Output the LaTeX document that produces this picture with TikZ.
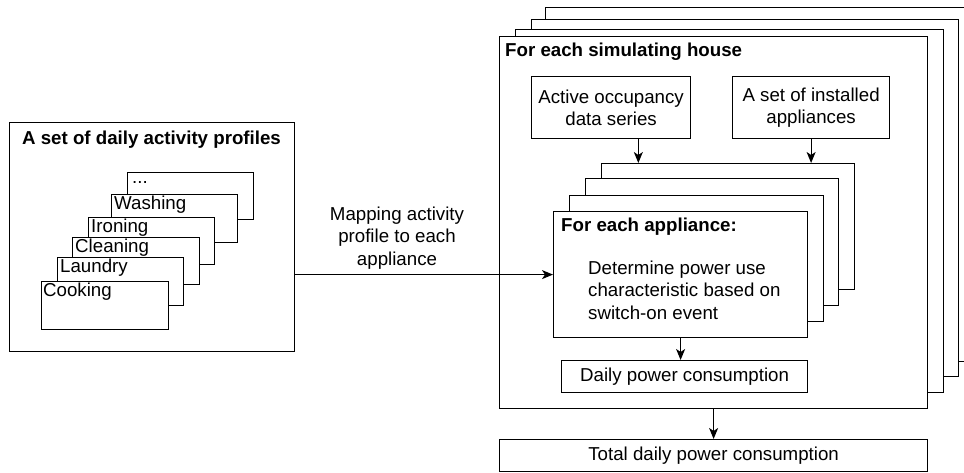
\documentclass[tikz,border=0pt]{standalone}
\usepackage{fontspec}
\setmainfont{Liberation Sans}
\usetikzlibrary{arrows.meta,calc}
\tikzset{
  box/.style={draw, line width=1.2pt, fill=white, inner sep=0pt, anchor=north west},
  arr/.style={line width=1.2pt, -{Stealth[length=11pt,width=9pt,inset=3pt]}},
  txt/.style={inner sep=0pt, font=\fontsize{18.7}{22.4}\selectfont},
  btxt/.style={inner sep=0pt, font=\fontsize{18.7}{22.4}\selectfont\bfseries},
}
\begin{document}
\begin{tikzpicture}[x=1pt,y=-1pt]
\useasboundingbox (0,0) rectangle (964,473);
\begin{scope}
\clip (0,0) rectangle (964,473);
% ---------- left: daily activity profiles ----------
\node[box, minimum width=285pt, minimum height=229pt] (prof) at (9,122) {};
\node[btxt] (proft) at (151.5,140) {A set of daily activity profiles};
\node[box, minimum width=126pt, minimum height=47pt] (dots) at (127,172) {};
\node[txt, anchor=west] (dotst) at ($(dots.north west)+(5,11)$) {...};
\node[box, minimum width=126pt, minimum height=48pt] (wash) at (111,194) {};
\node[txt, anchor=west] (washt) at ($(wash.north west)+(3,11)$) {Washing};
\node[box, minimum width=126pt, minimum height=47pt] (iron) at (88,217) {};
\node[txt, anchor=west] (iront) at ($(iron.north west)+(3,11)$) {Ironing};
\node[box, minimum width=127pt, minimum height=47pt] (clean) at (72,237) {};
\node[txt, anchor=west] (cleant) at ($(clean.north west)+(3,11)$) {Cleaning};
\node[box, minimum width=126pt, minimum height=48pt] (laund) at (57,257) {};
\node[txt, anchor=west] (laundt) at ($(laund.north west)+(3,11)$) {Laundry};
\node[box, minimum width=127pt, minimum height=48pt] (cook) at (41,281) {};
\node[txt, anchor=west] (cookt) at ($(cook.north west)+(2,11)$) {Cooking};
% ---------- right: houses ----------
\node[box, minimum width=435pt, minimum height=354pt] (h4) at (545,7) {};
\node[box, minimum width=427pt, minimum height=357pt] (h3) at (531,19) {};
\node[box, minimum width=428pt, minimum height=363pt] (h2) at (515,29) {};
\node[box, minimum width=428pt, minimum height=372pt] (h1) at (499,36) {};
\node[btxt, anchor=west] (h1t) at (505,52) {For each simulating house};
\node[box, minimum width=159pt, minimum height=62pt] (occ) at (531,76) {};
\node[txt, align=center] (occt) at (occ.center) {Active occupancy\\data series};
\node[box, minimum width=157pt, minimum height=62pt] (inst) at (732,76) {};
\node[txt, align=center] (instt) at (inst.center) {A set of installed\\appliances};
% appliance stack
\node[box, minimum width=253pt, minimum height=126pt] (a4) at (601,163) {};
\node[box, minimum width=253pt, minimum height=127pt] (a3) at (585,178) {};
\node[box, minimum width=254pt, minimum height=126pt] (a2) at (569,195) {};
\node[box, minimum width=254pt, minimum height=126pt] (a1) at (553,211) {};
\node[btxt, anchor=west] (a1t) at (561,227) {For each appliance:};
\node[txt, anchor=west, align=left] (a1d) at (588,290) {Determine power use\\characteristic based on\\switch-on event};
\node[box, minimum width=246pt, minimum height=32pt] (daily) at (561,360) {};
\node[txt] (dailyt) at (daily.center) {Daily power consumption};
\node[box, minimum width=428pt, minimum height=32pt] (total) at (499,439) {};
\node[txt] (totalt) at (total.center) {Total daily power consumption};
% ---------- connectors ----------
\coordinate (occout) at ($(occ.south west)!0.67!(occ.south east)$);
\draw[arr] (occout) -- (occout |- a4.north);
\draw[arr] (inst.south) -- (inst.south |- a4.north);
\draw[arr] (a1.west -| prof.east) -- (a1.west);
\node[txt, align=center] (mapt) at (397,238) {Mapping activity\\profile to each\\appliance};
\draw[arr] (a1.south) -- (a1.south |- daily.north);
\draw[arr] (h1.south) -- (h1.south |- total.north);
\end{scope}
\end{tikzpicture}
\end{document}
